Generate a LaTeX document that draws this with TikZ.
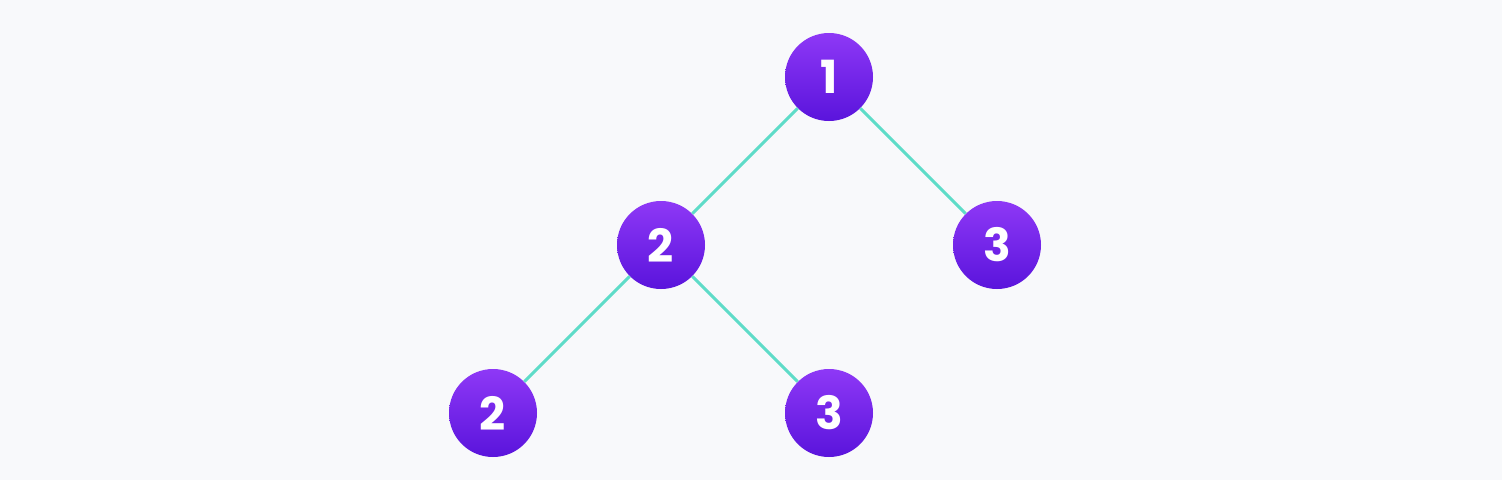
\documentclass[tikz,border=0pt]{standalone}
\usepackage{fontspec}
\setmainfont{Poppins}
\usetikzlibrary{positioning}
\definecolor{BgGrey}{RGB}{248,249,251}
\definecolor{TopViolet}{RGB}{142,56,246}
\definecolor{BottomViolet}{RGB}{90,20,220}
\definecolor{EdgeTeal}{RGB}{94,220,200}
\tikzset{
  tnode/.style={circle,minimum size=1.76cm,inner sep=0pt,
                top color=TopViolet,bottom color=BottomViolet,draw=none,
                text=white,font=\fontsize{26}{26}\selectfont\bfseries},
  tedge/.style={EdgeTeal,line width=1.7pt},
}
\begin{document}
\begin{tikzpicture}
\fill[BgGrey] (0,0) rectangle (30.04,9.6);
\node[tnode] (n1) at (16.58,8.06) {1};
\node[tnode] (n2) at (13.22,4.70) {2};
\node[tnode] (n3) at (19.94,4.70) {3};
\node[tnode] (n4) at (9.86,1.34) {2};
\node[tnode] (n5) at (16.58,1.34) {3};

\draw[tedge] (n1)--(n2);
\draw[tedge] (n1)--(n3);
\draw[tedge] (n2)--(n4);
\draw[tedge] (n2)--(n5);
\end{tikzpicture}
\end{document}
